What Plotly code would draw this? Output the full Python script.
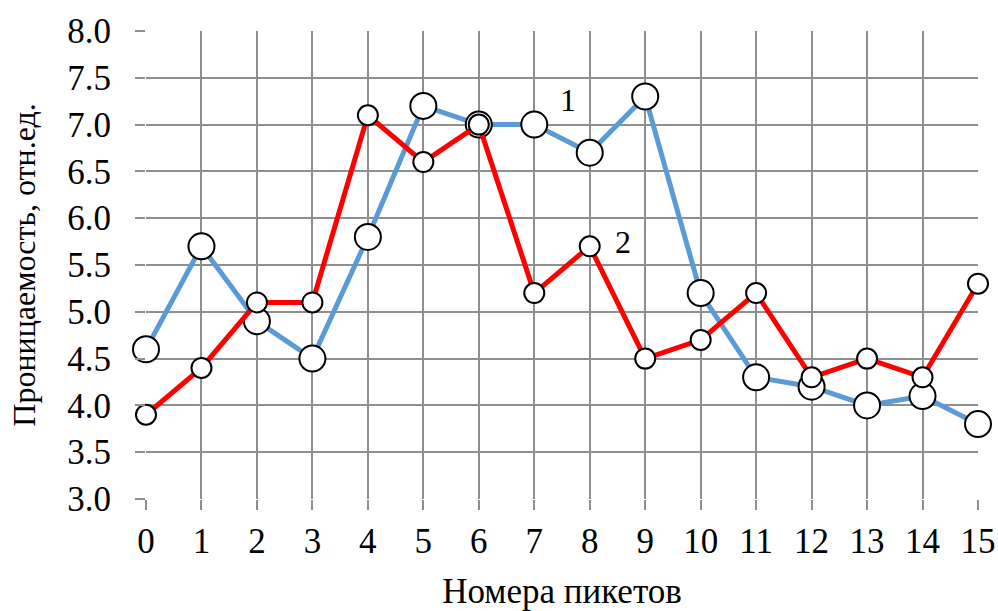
import plotly.graph_objects as go

# Picket numbers and permeability values for the two profiles
pickets = list(range(16))
profile_1 = [4.6, 5.7, 4.9, 4.5, 5.8, 7.2, 7.0, 7.0, 6.7, 7.3, 5.2, 4.3, 4.2, 4.0, 4.1, 3.8]
profile_2 = [3.9, 4.4, 5.1, 5.1, 7.1, 6.6, 7.0, 5.2, 5.7, 4.5, 4.7, 5.2, 4.3, 4.5, 4.3, 5.3]
y_ticks = [3.0, 3.5, 4.0, 4.5, 5.0, 5.5, 6.0, 6.5, 7.0, 7.5, 8.0]

serif = "Liberation Serif"
grid_color = "#8f8f8f"

fig = go.Figure()
fig.add_trace(go.Scatter(
    x=pickets, y=profile_1, mode="lines+markers", cliponaxis=False,
    line=dict(color="#5b9bd5", width=5),
    marker=dict(size=26, color="white", line=dict(color="black", width=2)),
))
fig.add_trace(go.Scatter(
    x=pickets, y=profile_2, mode="lines+markers", cliponaxis=False,
    line=dict(color="#ff0000", width=5),
    marker=dict(size=20, color="white", line=dict(color="black", width=2)),
))

fig.add_annotation(x=7.6, y=7.26, text="1", showarrow=False,
                   font=dict(family=serif, size=32, color="black"))
fig.add_annotation(x=8.6, y=5.75, text="2", showarrow=False,
                   font=dict(family=serif, size=32, color="black"))

fig.update_layout(
    width=998, height=611,
    margin=dict(l=146, r=20, t=31, b=112),
    paper_bgcolor="white", plot_bgcolor="white",
    showlegend=False,
    font=dict(family=serif, color="black"),
    xaxis=dict(
        range=[0, 15], tickvals=pickets, ticktext=[str(p) for p in pickets],
        showgrid=True, gridcolor=grid_color, gridwidth=2,
        ticks="outside", ticklen=10, tickwidth=2, tickcolor=grid_color,
        showline=False, zeroline=False, automargin=False,
        tickfont=dict(family=serif, size=35, color="black"),
        ticklabelstandoff=1,
        title=dict(text="Номера пикетов", font=dict(family=serif, size=35, color="black"),
                   standoff=18),
    ),
    yaxis=dict(
        range=[3, 8], tickvals=y_ticks, ticktext=[f"{v:.1f}" for v in y_ticks],
        showgrid=True, gridcolor=grid_color, gridwidth=2,
        ticks="outside", ticklen=10, tickwidth=2, tickcolor=grid_color,
        showline=False, zeroline=False, automargin=False,
        tickfont=dict(family=serif, size=35, color="black"),
        ticklabelstandoff=17,
        title=dict(text="Проницаемость, отн.ед.", font=dict(family=serif, size=32, color="black"),
                   standoff=22),
    ),
)

fig.write_html("out.html")
